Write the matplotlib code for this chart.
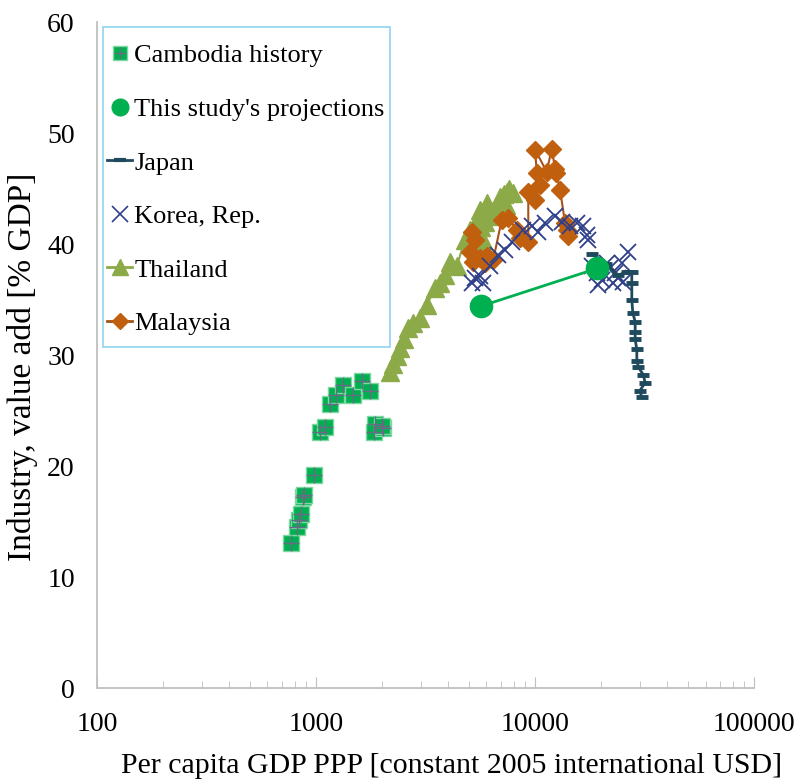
import matplotlib
matplotlib.use('Agg')
from matplotlib import pyplot as plt
from matplotlib.lines import Line2D
from matplotlib.patches import Rectangle

plt.rcParams['font.family'] = ['Liberation Serif', 'DejaVu Serif']

# GDP per capita PPP (constant 2005 USD) and industry share (% GDP)
cam_gdp = [766, 817, 832, 852, 875, 882, 979, 1043, 1099, 1158, 1234, 1327, 1476, 1618, 1766, 1859, 1840, 2023, 1990]
cam_ind = [13.1, 14.5, 15.1, 15.7, 17.2, 17.4, 19.2, 23.1, 23.5, 25.6, 26.4, 27.3, 26.4, 27.7, 26.8, 23.8, 23.1, 23.4, 23.6]

proj_gdp = [5662, 19190]
proj_ind = [34.4, 37.8]

jpn_gdp = [18160, 21000, 24000, 26240, 27640, 27640, 27640, 27930, 28640, 28640, 28640, 29140, 29140, 29650, 31230, 31790, 30110, 30670]
jpn_ind = [39.1, 38.2, 37.2, 37.5, 37.5, 36.5, 35.0, 33.8, 33.0, 32.1, 31.4, 30.5, 29.5, 28.9, 28.2, 27.5, 26.8, 26.2]

kor_gdp = [5150, 5300, 5606, 5800, 6240, 6790, 7290, 7820, 8850, 9660, 10360, 11120, 12340, 13230, 14460, 15500,
           16620, 17220, 17520, 18150, 19140, 20160, 19450, 21240, 21990, 23180, 24000, 25260, 26630, 24830, 22780]
kor_ind = [36.5, 36.9, 37.1, 36.5, 38.0, 39.0, 39.5, 40.2, 41.3, 41.6, 41.1, 41.9, 42.5, 42.0, 41.6, 41.9,
           41.6, 40.8, 40.4, 38.0, 37.4, 36.8, 36.3, 38.3, 37.8, 37.4, 36.9, 36.6, 39.3, 38.3, 36.5]

thai_gdp = [2178, 2254, 2335, 2420, 2524, 2639, 2781, 2985, 3201, 3494, 3683, 3880, 4090, 4389, 4789, 5047,
            5410, 5606, 6014, 5800, 5500, 5650, 5900, 6150, 6450, 6700, 6950, 7200, 7450, 7600, 7350, 7958]
thai_ind = [28.5, 29.2, 29.9, 30.6, 31.4, 32.4, 32.9, 33.3, 34.5, 36.0, 36.5, 37.2, 38.4, 38.0, 40.4, 41.3,
            42.2, 43.1, 43.7, 40.4, 40.0, 41.5, 42.0, 42.5, 43.0, 43.5, 44.2, 44.5, 44.7, 45.0, 43.5, 44.6]

mys_gdp = [5047, 5141, 5325, 5225, 5606, 6014, 5900, 6443, 7047, 7556, 8240, 8543, 9310, 9310, 10000, 10540,
           10180, 10000, 11300, 11920, 12330, 12500, 13000, 13700, 13960, 14200]
mys_ind = [39.3, 41.1, 40.4, 38.4, 38.7, 38.9, 38.3, 38.6, 42.2, 42.3, 41.3, 40.5, 40.2, 44.7, 44.0, 45.3,
           46.4, 48.5, 46.5, 48.6, 46.8, 46.4, 44.9, 41.9, 41.3, 40.7]

GREEN = '#00b050'
OLIVE = '#8caa48'
ORANGE = '#c0600f'
NAVY = '#2f3f8a'
TEAL = '#1f4a5e'

fig = plt.figure(figsize=(7.98, 7.83), dpi=100)
ax = fig.add_axes([0.1216, 0.1213, 0.8234, 0.8506])

ax.plot(thai_gdp, thai_ind, color=OLIVE, lw=1.5, marker='^', ms=13, mec=OLIVE, mfc=OLIVE, zorder=2)
ax.plot(mys_gdp, mys_ind, color='#a8521a', lw=1.5, marker='D', ms=9, mec=ORANGE, mfc=ORANGE, zorder=3)
ax.plot(kor_gdp, kor_ind, ls='none', marker='x', ms=12, mew=1.3, color=NAVY, zorder=4)
ax.plot(jpn_gdp, jpn_ind, color=TEAL, lw=2, marker='_', ms=9, mew=3.5, zorder=4)
ax.plot(proj_gdp, proj_ind, color=GREEN, lw=2, zorder=5)
ax.plot(proj_gdp, proj_ind, ls='none', marker='o', ms=16, color=GREEN, zorder=5)
ax.plot(cam_gdp, cam_ind, ls='none', marker='s', ms=12, mfc=GREEN, mec='#7fd8a4', mew=1, zorder=5)
ax.plot(cam_gdp, cam_ind, ls='none', marker='+', ms=11, mew=1, color='#6a6a86', zorder=6)

ax.set_xscale('log')
ax.set_xlim(100, 100000)
ax.set_ylim(0, 60)
ax.set_yticks([0, 10, 20, 30, 40, 50, 60])
ax.set_xticks([100, 1000, 10000, 100000])
ax.set_xticklabels(['100', '1000', '10000', '100000'])

for s in ['top', 'right']:
    ax.spines[s].set_visible(False)
for s in ['left', 'bottom']:
    ax.spines[s].set_color('#bfbfbf')
    ax.spines[s].set_linewidth(1.3)

ax.tick_params(axis='y', length=0, pad=16, labelsize=20)
ax.tick_params(axis='x', which='major', direction='in', length=8, color='#bfbfbf', pad=17, labelsize=20)
ax.tick_params(axis='x', which='minor', direction='in', length=5, color='#bfbfbf')

ax.set_xlabel('Per capita GDP PPP [constant 2005 international USD]', fontsize=21.5)
ax.xaxis.set_label_coords(0.539, -0.097)
ax.set_ylabel('Industry, value add [% GDP]', fontsize=24)
ax.yaxis.set_label_coords(-0.09, 0.482)

h_cam = (Line2D([], [], ls='none', marker='s', ms=10, mfc=GREEN, mec='#7fd8a4'),
         Line2D([], [], ls='none', marker='+', ms=9, mew=1, color='#6a6a86'))
h_proj = Line2D([], [], ls='none', marker='o', ms=12, color=GREEN)
h_jpn = Line2D([], [], color=TEAL, lw=2, marker='_', ms=8, mew=3)
h_kor = Line2D([], [], ls='none', marker='x', ms=11, mew=1.2, color=NAVY)
h_thai = Line2D([], [], color=OLIVE, lw=2, marker='^', ms=12)
h_mys = Line2D([], [], color='#a8521a', lw=2, marker='D', ms=8, mfc=ORANGE, mec=ORANGE)

# legend frame drawn separately so its padding matches the original
ax.add_patch(Rectangle((0.009, 0.512), 0.437, 0.48, transform=ax.transAxes, fill=False,
                       edgecolor='#8fd3ef', lw=1.2, zorder=7))
ax.legend([h_cam, h_proj, h_jpn, h_kor, h_thai, h_mys],
          ['Cambodia history', "This study's projections", 'Japan', 'Korea, Rep.', 'Thailand', 'Malaysia'],
          loc='upper left', bbox_to_anchor=(0.0152, 0.967), borderaxespad=0, borderpad=0, fontsize=19,
          handlelength=0.95, handletextpad=0.08, labelspacing=1.14, frameon=False)

plt.savefig('out.png', dpi=100)
